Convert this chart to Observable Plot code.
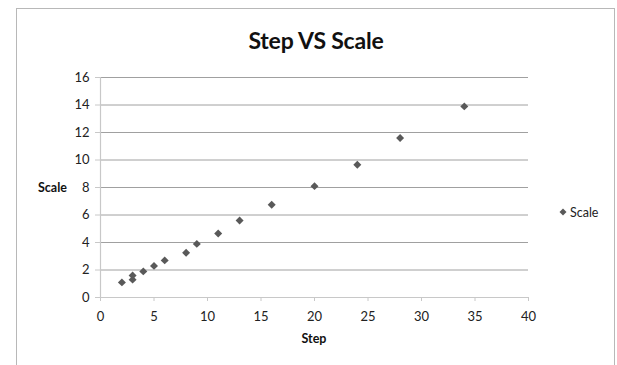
<!DOCTYPE html>
<html>
<head>
<meta charset="utf-8">
<script src="https://cdn.jsdelivr.net/npm/d3@7"></script>
<script src="https://cdn.jsdelivr.net/npm/@observablehq/plot@0.6"></script>
<style>
  html, body { margin: 0; padding: 0; background: #fff; overflow: hidden; }
  #wrap { position: relative; width: 617px; height: 365px; font-family: Lato, "Open Sans", sans-serif; }
  #frame { position: absolute; left: 16px; top: 8px; width: 599px; height: 400px; border: 1px solid #b8b8b8; border-bottom: none; box-sizing: border-box; }
  .t { position: absolute; white-space: nowrap; color: #111; }
  #title { left: 0; width: 632px; top: 26px; text-align: center; font-size: 23px; font-weight: 700; letter-spacing: -0.2px; }
  #xlab { left: 0; width: 628px; top: 331px; text-align: center; font-size: 12.5px; font-weight: 700; }
  #ylab { left: 38px; top: 180px; font-size: 12.5px; font-weight: 700; }
  #leg { left: 570px; top: 205px; font-size: 12.5px; color: #222; }
  #legsym { position: absolute; left: 559px; top: 208px; }
  svg.plot { position: absolute; left: 0; top: 0; }
</style>
</head>
<body>
<div id="wrap">
  <div id="frame"></div>
  <div id="chart"></div>
  <div class="t" id="title">Step VS Scale</div>
  <div class="t" id="xlab">Step</div>
  <div class="t" id="ylab">Scale</div>
  <svg id="legsym" width="8" height="8"><path d="M4,0.5L7.5,4L4,7.5L0.5,4Z" fill="#595959"/></svg>
  <div class="t" id="leg">Scale</div>
</div>
<script>
const steps  = [2, 3, 3, 4, 5, 6, 8, 9, 11, 13, 16, 20, 24, 28, 34];
const scales = [1.1, 1.3, 1.6, 1.9, 2.3, 2.7, 3.25, 3.9, 4.65, 5.6, 6.75, 8.1, 9.65, 11.6, 13.9];
const xTicks = [0, 5, 10, 15, 20, 25, 30, 35, 40];
const yTicks = [0, 2, 4, 6, 8, 10, 12, 14, 16];
const seriesName = "Scale";

const data = steps.map((s, i) => ({step: s, scale: scales[i], series: seriesName}));

const chart = Plot.plot({
  width: 617,
  height: 365,
  marginLeft: 100,
  marginRight: 89,
  marginTop: 77,
  marginBottom: 68,
  style: {fontFamily: "Lato, 'Open Sans', sans-serif", fontSize: "13px", color: "#222", background: "transparent"},
  x: {domain: [0, 40], label: null},
  y: {domain: [0, 16], label: null},
  marks: [
    Plot.gridY(yTicks.filter(d => d > 0), {stroke: "#a0a0a0", strokeOpacity: 1}),
    Plot.ruleX([0], {stroke: "#c8c8c8", strokeWidth: 1.2}),
    Plot.ruleY([0], {stroke: "#c8c8c8", strokeWidth: 1.2}),
    Plot.axisY({ticks: yTicks, tickSize: 5, tickPadding: 6, stroke: "#c8c8c8", label: null, tickFormat: d3.format("d")}),
    Plot.axisX({ticks: xTicks, tickSize: 4, tickPadding: 10, stroke: "#c8c8c8", label: null, tickFormat: d3.format("d")}),
    Plot.dot(data, {x: "step", y: "scale", symbol: "diamond2", r: 3.6, fill: "#595959", stroke: "none"})
  ]
});
document.getElementById("chart").appendChild(chart);
</script>
</body>
</html>
